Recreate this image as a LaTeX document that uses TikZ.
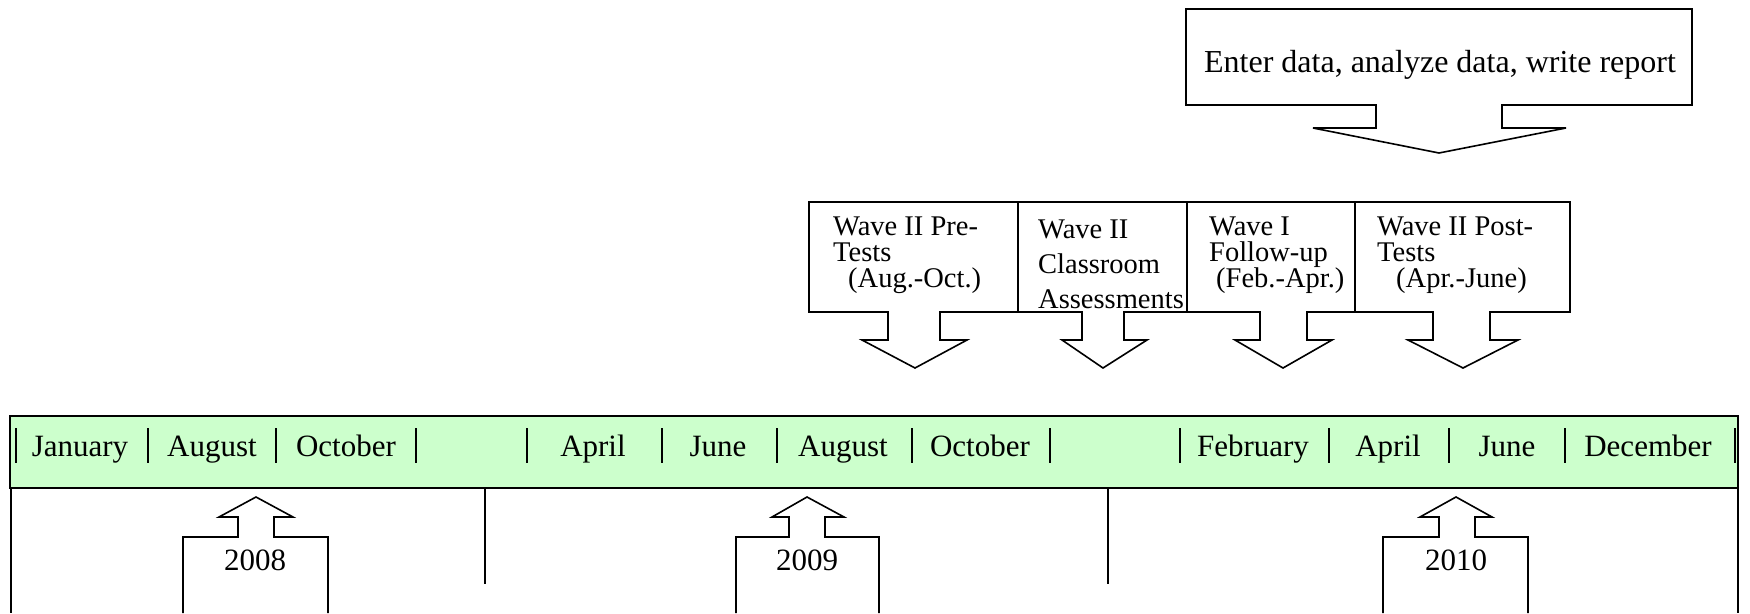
\documentclass[tikz,border=0pt]{standalone}
\usepackage{fontspec}
\setmainfont{Liberation Serif}
\usetikzlibrary{positioning}
\definecolor{bandgreen}{HTML}{CCFFCC}

\begin{document}
\begin{tikzpicture}[line join=miter, x=1pt, y=-1pt,
        callout/.style={draw=black, fill=white, line width=1.6pt},
        upcall/.style={draw=black, line width=1.6pt},
        tick/.style={line width=2pt},
        month/.style={anchor=base, inner sep=0pt, font=\fontsize{31}{36}\selectfont},
        year/.style={anchor=base, inner sep=0pt, font=\fontsize{31}{36}\selectfont},
        wavetext/.style={anchor=north west, inner sep=0pt, align=left, font=\fontsize{28.5}{26}\selectfont}]
        \useasboundingbox (0,0) rectangle (1750,613);
        % callout at the top
        \draw[callout] (1186,9) -- (1692,9) -- (1692,105) -- (1502,105) -- (1502,128) -- (1566,128) -- (1439,153) -- (1313,128) -- (1376,128) -- (1376,105) -- (1186,105) -- cycle;
        % the four wave callouts
        \draw[callout] (809,202) -- (1018,202) -- (1018,312) -- (940,312) -- (940,340) -- (967,340) -- (915,368) -- (862,340) -- (888,340) -- (888,312) -- (809,312) -- cycle;     %pre
        \draw[callout] (1018,202) -- (1187,202) -- (1187,312) -- (1124,312) -- (1124,340) -- (1147,340) -- (1103,368) -- (1062,340) -- (1082,340) -- (1082,312) -- (1018,312) -- cycle; %class
        \draw[callout] (1187,202) -- (1355,202) -- (1355,312) -- (1307,312) -- (1307,340) -- (1332,340) -- (1283,368) -- (1235,340) -- (1260,340) -- (1260,312) -- (1187,312) -- cycle; %follow
        \draw[callout] (1355,202) -- (1570,202) -- (1570,312) -- (1490,312) -- (1490,340) -- (1518,340) -- (1463,368) -- (1408,340) -- (1433,340) -- (1433,312) -- (1355,312) -- cycle; %post
        \node[anchor=base, inner sep=0pt, font=\fontsize{32}{38}\selectfont] (report) at (1440,72) {Enter data, analyze data, write report};
        \node[wavetext] (pretest) at (833,217) {Wave II Pre-\\Tests\\\hspace*{15pt}(Aug.-Oct.)};
        \node[wavetext, font=\fontsize{28.5}{35}\selectfont] (classroom) at (1038,220) {Wave II\\Classroom\\Assessments};
        \node[wavetext] (followup) at (1209,217) {Wave I\\Follow-up\\\hspace*{7pt}(Feb.-Apr.)};
        \node[wavetext] (posttest) at (1377,217) {Wave II Post-\\Tests\\\hspace*{19pt}(Apr.-June)};
        % timeline band
        \draw[fill=bandgreen, line width=2pt] (10,416) rectangle (1738,488);
        \foreach \x in {16,148,276,416,527,662,777,912,1050,1180,1329,1449,1565,1735}
            \draw[tick] (\x,428) -- (\x,463);
        \foreach \x/\m [count=\i] in {80/January,212/August,346/October,593/April,718/June,843/August,980/October,1253/February,1388/April,1507/June,1648/December}
            \node[month] (m\i) at (\x,456) {\m};
        % lines under the band
        \draw[tick] (11,488) -- (11,613);
        \draw[tick] (485,488) -- (485,584);
        \draw[tick] (1108,488) -- (1108,584);
        \draw[tick] (1738,488) -- (1738,613);
        % year callouts
        \draw[upcall] (183,613) -- (183,537) -- (238,537) -- (238,517) -- (219,517) -- (256,497) -- (293,517) -- (274,517) -- (274,537) -- (328,537) -- (328,613);    %2008
        \draw[upcall] (736,613) -- (736,537) -- (789,537) -- (789,517) -- (772,517) -- (807,497) -- (844,517) -- (825,517) -- (825,537) -- (879,537) -- (879,613);    %2009
        \draw[upcall] (1383,613) -- (1383,537) -- (1439,537) -- (1439,517) -- (1420,517) -- (1456,497) -- (1492,517) -- (1475,517) -- (1475,537) -- (1528,537) -- (1528,613); %2010
        \node[year] (y2008) at (255,570) {2008};
        \node[year] (y2009) at (807,570) {2009};
        \node[year] (y2010) at (1456,570) {2010};
\end{tikzpicture}
\end{document}
